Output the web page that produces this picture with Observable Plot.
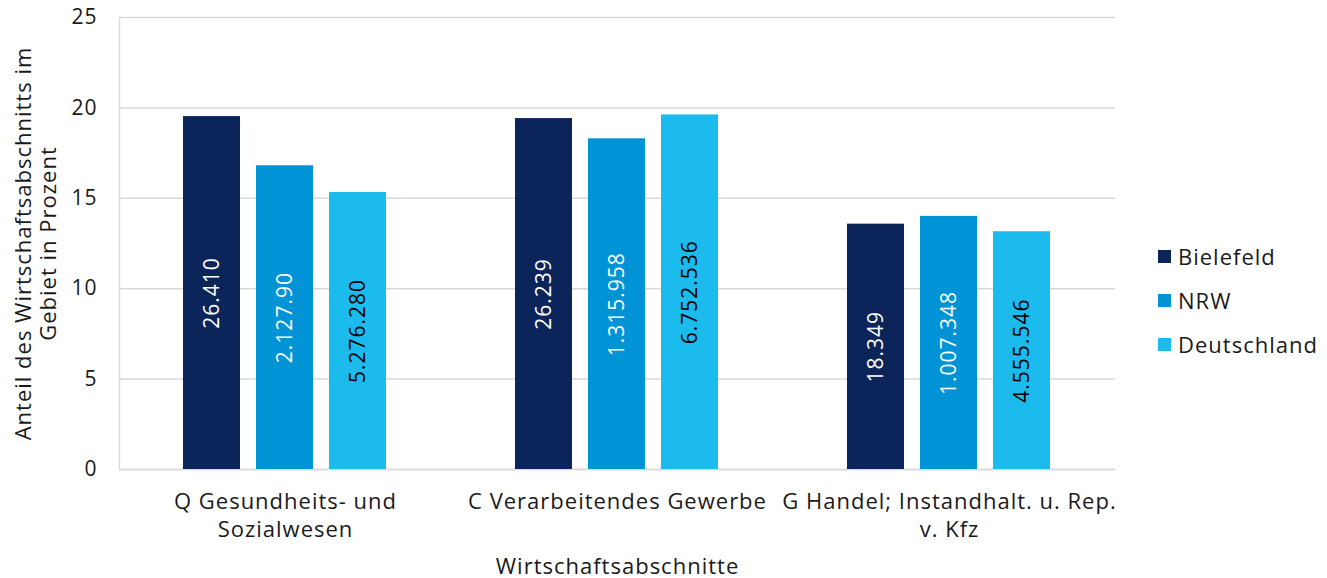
<!DOCTYPE html>
<html>
<head>
<meta charset="utf-8">
<script src="https://cdn.jsdelivr.net/npm/d3@7"></script>
<script src="https://cdn.jsdelivr.net/npm/@observablehq/plot@0.6"></script>
<style>
  html, body { margin: 0; padding: 0; background: #fff; }
  #wrap { position: relative; width: 1327px; height: 578px; font-family: "Open Sans", sans-serif; }
  #legend { position: absolute; left: 1158px; top: 234px; font-size: 22px; letter-spacing: 1px; color: #1a1a1a; }
  #legend .item { display: flex; align-items: center; height: 44px; }
  #legend .sw { width: 13px; height: 13px; margin-right: 7px; }
</style>
</head>
<body>
<div id="wrap"><div id="legend"></div></div>
<script>
const categories = ["Q Gesundheits- und Sozialwesen", "C Verarbeitendes Gewerbe", "G Handel; Instandhalt. u. Rep. v. Kfz"];
const categoryTickLabels = ["Q Gesundheits- und\nSozialwesen", "C Verarbeitendes Gewerbe", "G Handel; Instandhalt. u. Rep.\nv. Kfz"];
const series = ["Bielefeld", "NRW", "Deutschland"];
const colors = ["#0b2459", "#0093d5", "#1bbbee"];
const bielefeld = [19.52, 19.41, 13.57];
const nrw = [16.80, 18.29, 14.00];
const deutschland = [15.32, 19.61, 13.15];
const bielefeldLabels = ["26.410", "26.239", "18.349"];
const nrwLabels = ["2.127.90", "1.315.958", "1.007.348"];
const deutschlandLabels = ["5.276.280", "6.752.536", "4.555.546"];
const yTicks = [0, 5, 10, 15, 20, 25];
const yLabel = "Anteil des Wirtschaftsabschnitts im\nGebiet in Prozent";
const xLabel = "Wirtschaftsabschnitte";

const valuesBySeries = [bielefeld, nrw, deutschland];
const labelsBySeries = [bielefeldLabels, nrwLabels, deutschlandLabels];
const data = [];
series.forEach((s, si) => categories.forEach((c, ci) => {
  data.push({category: c, series: s, value: valuesBySeries[si][ci], label: labelsBySeries[si][ci]});
}));
const tickLabelMap = new Map(categories.map((c, i) => [c, categoryTickLabels[i]]));

const chart = Plot.plot({
  width: 1327,
  height: 578,
  marginLeft: 118,
  marginRight: 211,
  marginTop: 17,
  marginBottom: 109,
  style: {fontFamily: "'Open Sans', sans-serif", fontSize: "22px", letterSpacing: "1px", color: "#1a1a1a", background: "transparent", overflow: "visible"},
  fx: {domain: categories, padding: 0},
  x: {domain: series, paddingInner: 0.216, paddingOuter: 0.858, axis: null},
  y: {domain: [0, 25], ticks: yTicks},
  color: {domain: series, range: colors},
  marks: [
    Plot.gridY(yTicks, {stroke: "#d9d9d9", strokeOpacity: 1, strokeWidth: 1.5}),
    Plot.frame({anchor: "left", stroke: "#d9d9d9", strokeWidth: 1.5, facetAnchor: "left"}),
    Plot.ruleY([0], {stroke: "#d9d9d9", strokeWidth: 1.5}),
    Plot.barY(data, {fx: "category", x: "series", y: "value", fill: "series"}),
    Plot.text(data.filter(d => d.series !== "Deutschland"), {fx: "category", x: "series", y: d => d.value / 2, text: "label", rotate: -90, fill: "white", fontSize: 21}),
    Plot.text(data.filter(d => d.series === "Deutschland"), {fx: "category", x: "series", y: d => d.value / 2, text: "label", rotate: -90, fill: "black", fontSize: 21}),
    Plot.axisY(yTicks, {tickSize: 0, tickPadding: 22, label: null, fontSize: 21}),
    Plot.text([yLabel], {frameAnchor: "left", rotate: -90, dx: -84, textAnchor: "middle", lineAnchor: "middle", lineHeight: 1.15, fontSize: 22, fill: "#1a1a1a", facetAnchor: "left"}),
    Plot.axisFx({anchor: "bottom", tickSize: 0, tickPadding: 19, tickFormat: d => tickLabelMap.get(d), lineHeight: 1.3, label: xLabel, labelAnchor: "center", labelArrow: "none", labelOffset: 104, fontSize: 22})
  ]
});
document.getElementById("wrap").prepend(chart);

const legend = document.getElementById("legend");
series.forEach((s, i) => {
  const item = document.createElement("div");
  item.className = "item";
  const sw = document.createElement("div");
  sw.className = "sw";
  sw.style.background = colors[i];
  const t = document.createElement("span");
  t.textContent = s;
  item.append(sw, t);
  legend.append(item);
});
</script>
</body>
</html>
